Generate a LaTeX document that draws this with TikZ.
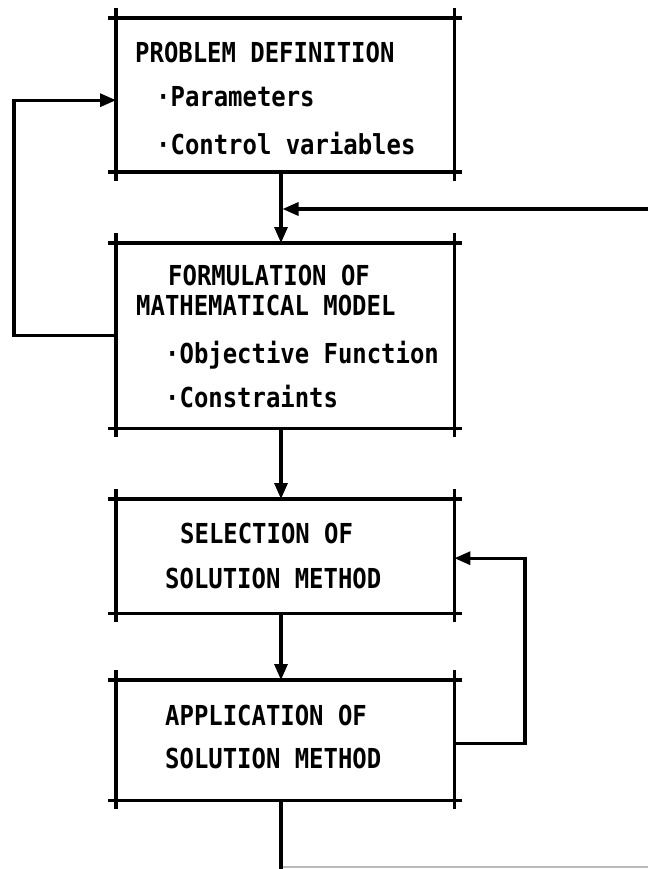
\documentclass[tikz,border=0pt]{standalone}
\usepackage{fontspec}
\usetikzlibrary{arrows.meta}
\newfontfamily\lpfont{DejaVu Sans Mono}[FakeStretch=0.87]

% four edges of a box, each running a little past the corners
\newcommand\crossframe[1]{%
  \draw[frame] ([xshift=-8pt]#1.north west) -- ([xshift=8pt]#1.north east);
  \draw[frame] ([xshift=-8pt]#1.south west) -- ([xshift=8pt]#1.south east);
  \draw[frame] ([yshift=10pt]#1.north west) -- ([yshift=-9pt]#1.south west);
  \draw[frame] ([yshift=10pt]#1.north east) -- ([yshift=-9pt]#1.south east);}

\begin{document}
\begin{tikzpicture}[x=1pt,y=-1pt,
  frame/.style={line width=3.8pt},
  flow/.style={line width=3.2pt,-{Triangle[length=16pt,width=13pt]}},
  wire/.style={line width=3.2pt},
  lbl/.style={anchor=base west,inner sep=0pt,
              font=\lpfont\bfseries\fontsize{27.5}{30}\selectfont},
  boxarea/.style={inner sep=0pt,minimum width=338pt,anchor=north west}]
\useasboundingbox (0,0) rectangle (648,869);

% box areas
\node[boxarea,minimum height=154pt] (b1) at (116,18)  {};
\node[boxarea,minimum height=185pt] (b2) at (116,243) {};
\node[boxarea,minimum height=114pt] (b3) at (116,499) {};
\node[boxarea,minimum height=120pt] (b4) at (116,680) {};
\crossframe{b1}
\crossframe{b2}
\crossframe{b3}
\crossframe{b4}

% box texts
\node[lbl] (t1a) at (135,63)  {PROBLEM DEFINITION};
\node[lbl] (t1b) at (156,107) {·Parameters};
\node[lbl] (t1c) at (156,155) {·Control variables};

\node[lbl] (t2a) at (168,285) {FORMULATION OF};
\node[lbl] (t2b) at (136,315) {MATHEMATICAL MODEL};
\node[lbl] (t2c) at (165,363) {·Objective Function};
\node[lbl] (t2d) at (165,407) {·Constraints};

\node[lbl] (t3a) at (180,543) {SELECTION OF};
\node[lbl] (t3b) at (165,588) {SOLUTION METHOD};

\node[lbl] (t4a) at (165,725) {APPLICATION OF};
\node[lbl] (t4b) at (165,768) {SOLUTION METHOD};

% reference lines for the connectors
\coordinate (m)     at (281,0);
\coordinate (lx)    at (14,0);
\coordinate (rx)    at (525,0);
\coordinate (fromR) at (648,209);
\coordinate (out)   at (281,869);
\coordinate (gA)    at (283,867);
\coordinate (gB)    at (648,867);

% main flow
\draw[flow] (b1.south -| m) -- (b2.north -| m);
\draw[flow] (b2.south -| m) -- (b3.north -| m);
\draw[flow] (b3.south -| m) -- (b4.north -| m);
\draw[wire] (b4.south -| m) -- (out);

% entry from the right into the trunk
\draw[flow,shorten >=1.5pt] (fromR) -- (fromR -| m);

% loop back from the model to the problem definition
\draw[flow] (b2.west) -- (b2.west -| lx) |- ([yshift=-5pt]b1.west);

% loop back from application to selection
\draw[flow] ([yshift=-3pt]b4.east) -- ([yshift=-3pt]b4.east -| rx)
            |- ([yshift=-2pt]b3.east);

% faint continuation along the bottom edge
\draw[gray!55,line width=1.3pt] (gA) -- (gB);
\end{tikzpicture}
\end{document}
